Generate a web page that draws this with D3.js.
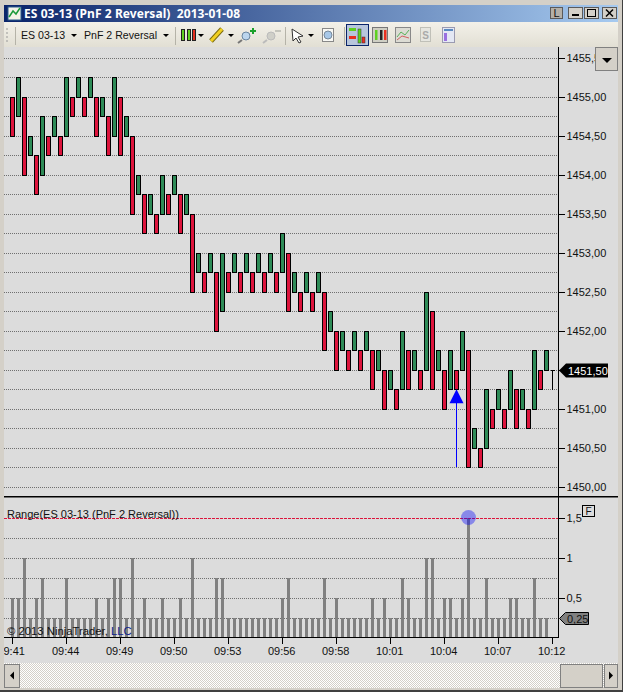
<!DOCTYPE html>
<html>
<head>
<meta charset="utf-8">
<script src="https://cdn.jsdelivr.net/npm/d3@7"></script>
<style>
  html, body { margin: 0; padding: 0; background: #d4d0c8; overflow: hidden; }
  svg { display: block; }
  text { font-family: "Liberation Sans", Arial, sans-serif; font-size: 11px; fill: #111; }
  .axis path, .axis line { stroke: #000; shape-rendering: crispEdges; }
  .grid { stroke: #707070; stroke-width: 1; stroke-dasharray: 1 1; shape-rendering: crispEdges; }
</style>
</head>
<body>
<svg id="chart" width="623" height="692"></svg>
<script>
// one entry per PnF bar, even bars fall, odd bars rise
const opens = [1455,1454.75,1455,1454.25,1454.25,1454,1454.5,1454.5,1454.5,1454.5,
  1455,1455,1455,1455,1455,1454.75,1454.75,1454.5,1455,1454.5,
  1454.5,1453.75,1453.75,1453.5,1453.5,1453.5,1453.75,1453.75,1453.75,1453.5,
  1453.5,1452.75,1452.75,1452.75,1452.75,1452.25,1452.75,1452.75,1452.75,1452.75,
  1452.75,1452.75,1452.75,1452.75,1452.75,1452.75,1453,1452.5,1452.5,1452.5,
  1452.5,1452.5,1452.5,1452,1452,1451.75,1451.75,1451.75,1451.75,1451.75,
  1451.75,1451.5,1451.5,1451.25,1451.25,1451.25,1451.75,1451.5,1451.5,1451.5,
  1452.25,1451.5,1451.5,1451.25,1451.5,1451.5,1451.75,1450.5,1450.5,1450.5,
  1451,1451,1451,1451,1451.25,1451,1451,1451,1451.5,1451.5];
const closes = [1454.5,1455.25,1454,1454.5,1453.75,1454.75,1454.25,1454.75,1454.25,1455.25,
  1454.75,1455.25,1454.75,1455.25,1454.5,1455,1454.25,1455.25,1454.25,1454.75,
  1453.5,1454,1453.25,1453.75,1453.25,1454,1453.5,1454,1453.25,1453.75,
  1452.5,1453,1452.5,1453,1452,1453,1452.5,1453,1452.5,1453,
  1452.5,1453,1452.5,1453,1452.5,1453.25,1452.25,1452.75,1452.25,1452.75,
  1452.25,1452.75,1451.75,1452.25,1451.5,1452,1451.5,1452,1451.5,1452,
  1451.25,1451.75,1451,1451.5,1451,1452,1451.25,1451.75,1451.25,1452.5,
  1451.25,1451.75,1451,1451.75,1451.25,1452,1450.25,1450.75,1450.25,1451.25,
  1450.75,1451.25,1450.75,1451.5,1450.75,1451.25,1450.75,1451.75,1451.25,1451.75];
const ranges = [.5,.5,1,.25,.5,.75,.25,.25,.25,.75,
  .25,.25,.25,.25,.5,.25,.5,.75,.75,.25,
  1,.25,.5,.25,.25,.5,.25,.25,.5,.25,
  1,.25,.25,.25,.75,.75,.25,.25,.25,.25,
  .25,.25,.25,.25,.25,.5,.75,.25,.25,.25,
  .25,.25,.75,.25,.5,.25,.25,.25,.25,.25,
  .5,.25,.5,.25,.25,.75,.5,.25,.25,1,
  1,.25,.5,.5,.25,.5,1.5,.25,.25,.75,
  .25,.25,.25,.5,.5,.25,.25,.75,.25,.25];
const formingBar = { index: 90, high: 1451.5, low: 1451.25 };
const signal = { index: 74, tip: 1451.25, tail: 1450.25 };
const highlight = { index: 76, value: 1.5 };

const timeTicks = [0, 9, 18, 27, 36, 45, 54, 63, 72, 81, 90];
const timeLabels = ["9:41","09:44","09:49","09:50","09:53","09:56","09:58","10:01","10:04","10:07","10:12"];
const priceTicks = [1450,1450.5,1451,1451.5,1452,1452.5,1453,1453.5,1454,1454.5,1455,1455.5];
const priceGrid = d3.range(1450, 1455.75, 0.25);
const rangeTicks = [0.5, 1, 1.5];
const rangeGrid = [0.25, 0.5, 0.75, 1, 1.25];
const lastPrice = 1451.5;
const lastRange = 0.25;

const red = "#dc143c", green = "#2e8b57", panelBg = "#dcdcdc", face = "#d4d0c8";
const axisX = 558.5, plotLeft = 4;

const svg = d3.select("#chart");
const comma = s => String(s).replace(".", ",");

const x = d3.scaleLinear().domain([0, 90]).range([12.5, 552.5]);
const yPrice = d3.scaleLinear().domain([1450, 1455.5]).range([486.9, 57.7]);
const yRange = d3.scaleLinear().domain([0, 1.5]).range([638, 518]);
const crisp = v => Math.round(v) + 0.5;

// panels
svg.append("rect").attr("x", plotLeft).attr("y", 47).attr("width", 614).attr("height", 616).attr("fill", panelBg);

svg.append("g").selectAll("line").data(priceGrid).enter().append("line")
  .attr("class", "grid")
  .attr("x1", plotLeft).attr("x2", axisX)
  .attr("y1", d => crisp(yPrice(d))).attr("y2", d => crisp(yPrice(d)));

svg.append("g").selectAll("line").data(rangeGrid).enter().append("line")
  .attr("class", "grid")
  .attr("x1", plotLeft).attr("x2", axisX)
  .attr("y1", d => crisp(yRange(d))).attr("y2", d => crisp(yRange(d)));

// price bars
svg.append("g").selectAll("rect").data(opens).enter().append("rect")
  .attr("x", (d, i) => x(i) - 2)
  .attr("width", 4)
  .attr("y", (d, i) => crisp(yPrice(Math.max(d, closes[i]))))
  .attr("height", (d, i) => crisp(yPrice(Math.min(d, closes[i]))) - crisp(yPrice(Math.max(d, closes[i]))))
  .attr("fill", (d, i) => closes[i] > d ? green : red)
  .attr("stroke", "#000")
  .attr("shape-rendering", "crispEdges");

// bar still forming
const fx = x(formingBar.index);
svg.append("path")
  .attr("d", `M${fx - 2},${crisp(yPrice(formingBar.high))}H${fx + 2}M${fx},${crisp(yPrice(formingBar.high))}V${crisp(yPrice(formingBar.low))}`)
  .attr("fill", "none").attr("stroke", "#000").attr("shape-rendering", "crispEdges");

// signal arrow
const ax = x(signal.index), tipY = yPrice(signal.tip);
svg.append("line")
  .attr("x1", ax).attr("x2", ax)
  .attr("y1", yPrice(signal.tail)).attr("y2", tipY + 10)
  .attr("stroke", "#0000ff").attr("shape-rendering", "crispEdges");
svg.append("path")
  .attr("d", `M${ax},${tipY}L${ax + 7},${tipY + 14}H${ax - 7}Z`)
  .attr("fill", "#0000ff");

// range bars
svg.append("g").selectAll("rect").data(ranges).enter().append("rect")
  .attr("x", (d, i) => x(i) - 1.5)
  .attr("width", 3)
  .attr("y", d => Math.round(yRange(d)))
  .attr("height", d => 637 - Math.round(yRange(d)))
  .attr("fill", "#808080")
  .attr("shape-rendering", "crispEdges");

// range alert line + marker
svg.append("line")
  .attr("x1", plotLeft).attr("x2", axisX)
  .attr("y1", crisp(yRange(1.5))).attr("y2", crisp(yRange(1.5)))
  .attr("stroke", red).attr("stroke-dasharray", "3 1").attr("shape-rendering", "crispEdges");
svg.append("circle")
  .attr("cx", x(highlight.index)).attr("cy", yRange(highlight.value) - 0.5).attr("r", 7.5)
  .attr("fill", "#0000ff").attr("fill-opacity", 0.38);

svg.append("text").attr("x", 7).attr("y", 518).text("Range(ES 03-13 (PnF 2 Reversal))");
const copy = svg.append("text").attr("x", 7).attr("y", 635).attr("style", "font-size:11.3px");
copy.append("tspan").text("© 2013 NinjaTrader, ");
copy.append("tspan").attr("style", "fill:#0a1f8f").text("LLC");

// axes
const priceAxis = svg.append("g").attr("class", "axis").attr("transform", `translate(${axisX},0)`)
  .call(d3.axisRight(yPrice).tickValues(priceTicks).tickSize(6).tickPadding(2).offset(0)
    .tickFormat(d => comma(d3.format(".2f")(d))));
priceAxis.select(".domain").attr("d", "M0,47V496");
priceAxis.selectAll(".tick line").attr("y1", 0.5).attr("y2", 0.5);
priceAxis.selectAll(".tick text").attr("dy", "0.37em");

const rangeAxis = svg.append("g").attr("class", "axis").attr("transform", `translate(${axisX},0)`)
  .call(d3.axisRight(yRange).tickValues(rangeTicks).tickSize(6).tickPadding(2).offset(0).tickFormat(comma));
rangeAxis.select(".domain").attr("d", "M0,496V637");
rangeAxis.selectAll(".tick line").attr("y1", 0.5).attr("y2", 0.5);
rangeAxis.selectAll(".tick text").attr("dy", "0.37em");

const timeAxis = svg.append("g").attr("class", "axis").attr("transform", "translate(0,637.5)")
  .call(d3.axisBottom(x).tickValues(timeTicks).tickSize(6).tickPadding(4).offset(0)
    .tickFormat((d, i) => timeLabels[i]));
timeAxis.select(".domain").attr("d", `M${plotLeft},0H${axisX}`);
timeAxis.selectAll(".tick text").attr("dx", (d, i) => i === 0 ? 1.7 : -0.8);

svg.selectAll(".axis text").attr("font-family", null).attr("font-size", null).attr("fill", null);
svg.selectAll(".axis").attr("font-family", null).attr("font-size", null);

svg.append("rect").attr("x", plotLeft).attr("y", 496).attr("width", 614).attr("height", 1.5).attr("fill", "#000");

// value tags on the right
const py = crisp(yPrice(lastPrice));
svg.append("path").attr("d", `M559,${py}l7,-7H608V${py + 7}H566Z`).attr("fill", "#000");
svg.append("text").attr("x", 568).attr("y", py + 4).attr("style", "fill:#fff").text(comma(d3.format(".2f")(lastPrice)));
const ry = crisp(yRange(lastRange));
svg.append("path").attr("d", `M559.5,${ry}l6,-6H588.5V${ry + 6}H565.5Z`).attr("fill", "#808080").attr("stroke", "#000");
svg.append("text").attr("x", 567).attr("y", ry + 4).text(comma(lastRange));

svg.append("rect").attr("x", 582.5).attr("y", 505.5).attr("width", 12).attr("height", 11)
  .attr("fill", panelBg).attr("stroke", "#000").attr("shape-rendering", "crispEdges");
svg.append("text").attr("x", 588.5).attr("y", 515).attr("text-anchor", "middle").attr("style", "font-size:10px").text("F");

// window chrome
const defs = svg.append("defs");
const title = defs.append("linearGradient").attr("id", "titleGrad");
title.append("stop").attr("offset", 0).attr("stop-color", "#0a246a");
title.append("stop").attr("offset", 1).attr("stop-color", "#a6caf0");
const tool = defs.append("linearGradient").attr("id", "toolGrad").attr("x2", 0).attr("y2", 1);
tool.append("stop").attr("offset", 0).attr("stop-color", "#f3f1e9");
tool.append("stop").attr("offset", 1).attr("stop-color", "#e2dfd4");
const hatch = defs.append("pattern").attr("id", "hatch").attr("width", 2).attr("height", 2).attr("patternUnits", "userSpaceOnUse");
hatch.append("rect").attr("width", 2).attr("height", 2).attr("fill", "#fff");
hatch.append("rect").attr("width", 1).attr("height", 1).attr("fill", face);
hatch.append("rect").attr("x", 1).attr("y", 1).attr("width", 1).attr("height", 1).attr("fill", face);

svg.append("rect").attr("width", 4).attr("height", 692).attr("fill", face);
svg.append("rect").attr("x", 618).attr("width", 5).attr("height", 692).attr("fill", face);
svg.append("rect").attr("width", 623).attr("height", 5).attr("fill", face);
svg.append("rect").attr("y", 688).attr("width", 623).attr("height", 4).attr("fill", face);
svg.append("rect").attr("y", 690).attr("width", 623).attr("height", 2).attr("fill", "#404040");
svg.append("rect").attr("x", 622).attr("width", 1).attr("height", 692).attr("fill", "#404040");

svg.append("rect").attr("x", 4).attr("y", 5).attr("width", 614).attr("height", 17).attr("fill", "url(#titleGrad)");
svg.append("rect").attr("x", 4).attr("y", 22).attr("width", 614).attr("height", 25).attr("fill", "url(#toolGrad)");

svg.append("text").attr("x", 24).attr("y", 17.5).attr("xml:space", "preserve")
  .attr("textLength", 216).attr("lengthAdjust", "spacing")
  .attr("style", "font-family:'Noto Sans';font-weight:bold;font-size:12px;fill:#fff")
  .text("ES 03-13 (PnF 2 Reversal)  2013-01-08");
svg.append("rect").attr("x", 8).attr("y", 7).attr("width", 13).attr("height", 13).attr("fill", "#f4f4e8").attr("stroke", "#2a5a8a");
svg.append("path").attr("d", "M9,17L13,11L16,14L20,8").attr("fill", "none").attr("stroke", "#1a9a3a").attr("stroke-width", 1.5);

function winButton(bx, w, draw, fill) {
  svg.append("rect").attr("x", bx + 0.5).attr("y", 7.5).attr("width", w).attr("height", 11)
    .attr("fill", fill || face).attr("stroke", "#5a5a5a").attr("shape-rendering", "crispEdges");
  draw(bx);
}
winButton(550, 12, b => svg.append("text").attr("x", b + 6.5).attr("y", 17).attr("text-anchor", "middle").text("L"), "#b4b0a8");
winButton(568, 14, b => svg.append("rect").attr("x", b + 4).attr("y", 14).attr("width", 7).attr("height", 2).attr("fill", "#000"));
winButton(584, 14, b => svg.append("rect").attr("x", b + 3.5).attr("y", 9.5).attr("width", 8).attr("height", 7).attr("fill", "none").attr("stroke", "#000").attr("shape-rendering", "crispEdges"));
winButton(602, 14, b => svg.append("path").attr("d", `M${b + 4},9.5l7,7m0,-7l-7,7`).attr("stroke", "#000").attr("stroke-width", 1.5));

function dropArrow(ax0, ay) {
  svg.append("path").attr("d", `M${ax0},${ay}h6l-3,3Z`).attr("fill", "#000");
}
function toolSep(sx) {
  svg.append("rect").attr("x", sx).attr("y", 27).attr("width", 1).attr("height", 18).attr("fill", "#b5b3a8");
}
svg.append("path").attr("d", "M7,28V43").attr("stroke", "#999").attr("stroke-dasharray", "2 2");
toolSep(15); toolSep(175); toolSep(285); toolSep(344);
svg.append("text").attr("x", 21).attr("y", 39).attr("style", "font-size:10.6px").text("ES 03-13");
dropArrow(71, 34);
svg.append("text").attr("x", 84).attr("y", 39).attr("style", "font-size:10.6px").text("PnF 2 Reversal");
dropArrow(163, 34);

// candles icon
[[181, green], [187, green], [192, red]].forEach(([cx, col]) => {
  svg.append("rect").attr("x", cx + 0.5).attr("y", 29.5).attr("width", 3).attr("height", 11)
    .attr("fill", col === red ? "#e83020" : "#5fd020").attr("stroke", "#222").attr("shape-rendering", "crispEdges");
});
dropArrow(198, 34);
// pencil
svg.append("path").attr("d", "M211,41L222,29").attr("stroke", "#7a6a10").attr("stroke-width", 5);
svg.append("path").attr("d", "M211,41L222,29").attr("stroke", "#f2d020").attr("stroke-width", 3);
dropArrow(228, 34);
// zoom icons
svg.append("circle").attr("cx", 246).attr("cy", 36).attr("r", 4).attr("fill", "#bcd6ee").attr("stroke", "#6a86a0");
svg.append("path").attr("d", "M242,40L238,43").attr("stroke", "#777").attr("stroke-width", 2);
svg.append("path").attr("d", "M253,28V34M250,31H256").attr("stroke", "#1aa02a").attr("stroke-width", 2);
svg.append("circle").attr("cx", 271).attr("cy", 36).attr("r", 4).attr("fill", "#cfcfc8").attr("stroke", "#bbb");
svg.append("path").attr("d", "M267,40L263,43").attr("stroke", "#bbb").attr("stroke-width", 2);
svg.append("path").attr("d", "M275,31H281").attr("stroke", "#c4c4bc").attr("stroke-width", 2);
// pointer
svg.append("path").attr("d", "M292,29L303,36L298,37L301,42L299,43L296,38L293,41Z").attr("fill", "#fff").attr("stroke", "#333");
dropArrow(308, 34);
// find
svg.append("rect").attr("x", 322.5).attr("y", 28.5).attr("width", 11).attr("height", 13).attr("fill", "#f8f8f4").attr("stroke", "#888");
svg.append("circle").attr("cx", 328).attr("cy", 35).attr("r", 4).attr("fill", "#a8c8e8").attr("stroke", "#789");

// right hand toolbar group
svg.append("rect").attr("x", 346.5).attr("y", 24.5).attr("width", 22).attr("height", 21).attr("fill", "#b8c6dc").attr("stroke", "#0a246a");
svg.append("rect").attr("x", 349).attr("y", 28).attr("width", 7).attr("height", 3).attr("fill", "#5fd020");
svg.append("rect").attr("x", 349).attr("y", 36).attr("width", 7).attr("height", 3).attr("fill", "#e83020");
svg.append("rect").attr("x", 358).attr("y", 29).attr("width", 3).attr("height", 14).attr("fill", "#5fd020").attr("stroke", "#333").attr("stroke-width", 0.5);
svg.append("rect").attr("x", 362).attr("y", 37).attr("width", 3).attr("height", 6).attr("fill", "#e83020").attr("stroke", "#333").attr("stroke-width", 0.5);

svg.append("rect").attr("x", 372.5).attr("y", 27.5).attr("width", 15).attr("height", 15).attr("fill", "#cfcfc4").attr("stroke", "#777");
[[375, "#5fd020"], [380, "#222"], [384, "#e83020"]].forEach(([cx, col]) => {
  svg.append("rect").attr("x", cx).attr("y", 30).attr("width", 2.5).attr("height", 10).attr("fill", col);
});
svg.append("rect").attr("x", 395.5).attr("y", 27.5).attr("width", 15).attr("height", 15).attr("fill", "#dcdcd4").attr("stroke", "#888");
svg.append("path").attr("d", "M397,37L401,32L405,35L409,30").attr("fill", "none").attr("stroke", "#5ab05a");
svg.append("path").attr("d", "M397,40L402,36L409,38").attr("fill", "none").attr("stroke", "#d06060");
svg.append("rect").attr("x", 420.5).attr("y", 27.5).attr("width", 10).attr("height", 14).attr("fill", "#e6e6e0").attr("stroke", "#c0c0b8");
svg.append("text").attr("x", 425.5).attr("y", 39).attr("text-anchor", "middle").attr("style", "font-size:10px;font-weight:bold;fill:#aaa").text("S");
svg.append("rect").attr("x", 442.5).attr("y", 27.5).attr("width", 12).attr("height", 15).attr("fill", "#e4e8f4").attr("stroke", "#9a9ab0");
svg.append("rect").attr("x", 444).attr("y", 29).attr("width", 9).attr("height", 2).attr("fill", "#5a8ac0");
svg.append("rect").attr("x", 444).attr("y", 33).attr("width", 3).attr("height", 8).attr("fill", "#9a70e0");

// scale button
svg.append("rect").attr("x", 595.5).attr("y", 47.5).attr("width", 22).attr("height", 23).attr("fill", face).attr("stroke", "#808080").attr("shape-rendering", "crispEdges");
svg.append("path").attr("d", "M602,58h10l-5,5Z").attr("fill", "#000");

// scroll bar
svg.append("rect").attr("x", 4).attr("y", 663).attr("width", 614).attr("height", 25).attr("fill", "url(#hatch)");
function scrollFace(sx, w) {
  svg.append("rect").attr("x", sx + 0.5).attr("y", 664.5).attr("width", w).attr("height", 23)
    .attr("fill", face).attr("stroke", "#808080").attr("shape-rendering", "crispEdges");
}
scrollFace(4, 15);
svg.append("path").attr("d", "M10,675.5l4,-4v8Z").attr("fill", "#000");
scrollFace(560, 42);
scrollFace(604, 13);
svg.append("path").attr("d", "M613,675.5l-4,-4v8Z").attr("fill", "#000");
</script>
</body>
</html>
